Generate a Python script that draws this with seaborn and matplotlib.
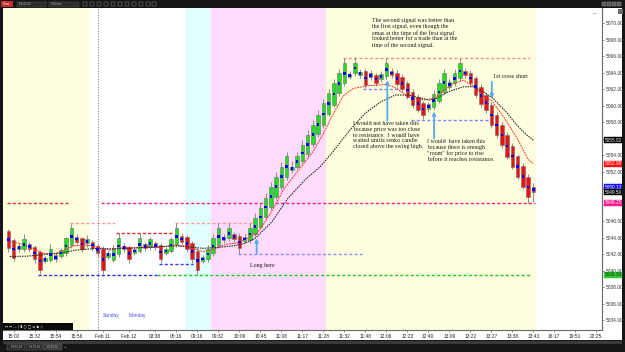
import matplotlib
matplotlib.use("Agg")
import matplotlib.pyplot as plt
import matplotlib.transforms as mtransforms
from matplotlib.patches import Rectangle
import numpy as np
import pandas as pd
import seaborn as sns

# ---------------- data ----------------
opens = [5044.80, 5043.71, 5042.58, 5042.58, 5043.22, 5042.90, 5042.29, 5041.16, 5041.28, 5041.85,
         5041.77, 5042.09, 5043.10, 5044.11, 5043.91, 5043.30, 5043.51, 5042.98, 5042.58, 5041.69,
         5041.28, 5042.01, 5042.98, 5042.82, 5042.17, 5042.41, 5043.18, 5042.82, 5043.30, 5043.10,
         5042.17, 5042.41, 5043.18, 5044.19, 5044.03, 5043.30, 5042.41, 5041.20, 5041.40, 5042.09,
         5043.10, 5043.67, 5043.91, 5044.44, 5044.19, 5043.59, 5043.71, 5044.40, 5045.33, 5046.54,
         5047.75, 5048.97, 5050.18, 5051.39, 5052.20, 5052.61, 5053.30, 5054.15, 5055.32, 5056.53,
         5057.67, 5059.00, 5060.10, 5061.51, 5062.73, 5063.45, 5063.94, 5063.70, 5064.26, 5063.94,
         5063.74, 5063.21, 5063.61, 5064.26, 5064.02, 5063.45, 5062.73, 5061.71, 5061.11, 5060.30,
         5059.57, 5059.81, 5060.62, 5061.71, 5062.32, 5062.73, 5063.33, 5064.26, 5064.02, 5063.33,
         5062.32, 5061.31, 5060.10, 5058.88, 5057.67, 5056.45, 5055.16, 5053.90, 5052.69, 5051.40,
         5050.18]
closes = [5042.70, 5041.48, 5042.98, 5043.79, 5042.58, 5041.36, 5040.07, 5041.56, 5042.58, 5041.36,
          5042.49, 5043.91, 5045.12, 5043.51, 5042.58, 5043.79, 5042.70, 5042.09, 5040.07, 5042.17,
          5042.58, 5043.91, 5042.58, 5041.36, 5042.58, 5043.91, 5042.70, 5043.79, 5042.82, 5041.36,
          5042.62, 5043.83, 5045.12, 5043.51, 5042.58, 5041.36, 5040.07, 5041.60, 5042.58, 5043.91,
          5045.12, 5044.11, 5045.12, 5043.83, 5042.70, 5044.11, 5045.12, 5046.34, 5047.63, 5048.85,
          5050.18, 5051.39, 5052.61, 5053.90, 5052.60, 5053.90, 5055.24, 5056.45, 5057.67, 5058.88,
          5060.30, 5061.51, 5062.73, 5063.94, 5065.15, 5063.86, 5065.23, 5064.14, 5062.52, 5063.45,
          5062.73, 5063.86, 5065.15, 5063.70, 5062.64, 5062.00, 5061.11, 5060.10, 5059.49, 5058.88,
          5060.22, 5061.43, 5062.73, 5063.94, 5062.85, 5063.94, 5065.15, 5063.74, 5062.73, 5061.31,
          5060.22, 5059.49, 5057.67, 5056.45, 5055.24, 5053.82, 5052.61, 5051.40, 5050.18, 5048.89,
          5049.50]
highs = [5045.10, 5043.90, 5043.30, 5044.45, 5043.50, 5043.10, 5042.50, 5041.80, 5043.20, 5042.10,
         5042.80, 5044.10, 5045.70, 5044.40, 5044.10, 5044.30, 5043.70, 5043.20, 5043.00, 5042.50,
         5043.10, 5044.50, 5043.30, 5043.10, 5042.90, 5044.50, 5043.50, 5044.10, 5043.60, 5043.30,
         5042.90, 5044.10, 5045.75, 5044.60, 5044.30, 5043.60, 5042.70, 5041.90, 5043.10, 5044.40,
         5045.73, 5044.40, 5045.73, 5044.70, 5044.50, 5044.40, 5045.73, 5046.95, 5048.16, 5049.37,
         5050.79, 5052.00, 5053.20, 5054.40, 5053.30, 5054.40, 5055.85, 5057.06, 5058.27, 5059.50,
         5060.78, 5062.00, 5063.21, 5064.42, 5065.85, 5064.20, 5065.88, 5064.50, 5064.60, 5064.30,
         5064.00, 5064.20, 5065.85, 5064.60, 5064.30, 5063.80, 5063.00, 5062.00, 5061.40, 5060.60,
         5060.50, 5061.90, 5063.21, 5064.42, 5063.20, 5064.42, 5065.85, 5064.60, 5064.30, 5063.60,
         5062.60, 5061.60, 5060.40, 5059.20, 5058.00, 5056.80, 5055.50, 5054.20, 5053.00, 5051.70,
         5050.60]
lows = [5042.30, 5041.20, 5042.20, 5042.30, 5042.30, 5040.90, 5039.60, 5040.90, 5041.00, 5041.10,
        5041.50, 5041.80, 5042.80, 5043.20, 5042.30, 5042.90, 5042.40, 5041.70, 5039.55, 5041.40,
        5041.00, 5041.70, 5042.30, 5040.90, 5041.90, 5042.10, 5042.40, 5042.50, 5042.50, 5040.95,
        5041.90, 5042.10, 5042.90, 5043.20, 5042.30, 5040.90, 5039.50, 5040.90, 5041.10, 5041.80,
        5042.80, 5043.40, 5043.60, 5043.50, 5042.00, 5043.30, 5043.40, 5044.10, 5045.00, 5046.20,
        5047.40, 5048.60, 5049.80, 5051.00, 5051.90, 5052.30, 5053.00, 5053.80, 5055.00, 5056.20,
        5057.30, 5058.70, 5059.80, 5061.20, 5062.40, 5063.20, 5063.60, 5063.40, 5062.20, 5063.10,
        5062.40, 5062.90, 5063.30, 5063.40, 5062.30, 5061.70, 5060.80, 5059.69, 5059.20, 5058.35,
        5059.30, 5059.50, 5060.30, 5061.40, 5062.00, 5062.40, 5063.00, 5063.40, 5062.40, 5061.00,
        5059.90, 5059.10, 5057.30, 5056.10, 5054.90, 5053.50, 5052.30, 5051.10, 5049.90, 5048.25,
        5048.30]

red_ema_x = [0.3, 2.2, 4.8, 6.7, 8.6, 10.5, 12.4, 14.3, 16.2, 17.5, 19.4, 21.3, 23.8, 26.4, 28.9,
             31.4, 33.3, 35.2, 37.1, 39.0, 41.6, 44.1, 47.5, 50.0, 52.6, 55.3, 58.0, 60.0, 61.9,
             63.8, 65.7, 68.3, 70.2, 72.1, 74.0, 75.9, 77.8, 79.7, 81.6, 82.8, 84.8, 86.7, 88.6,
             90.5, 92.1, 94.3, 96.8, 99.0, 100.0]
red_ema_y = [5043.5, 5043.3, 5042.65, 5042.1, 5042.0, 5042.45, 5043.0, 5043.1, 5043.0, 5042.75,
             5042.5, 5042.75, 5042.75, 5042.85, 5042.8, 5043.1, 5043.0, 5042.7, 5042.3, 5042.6,
             5043.2, 5043.4, 5044.6, 5047.0, 5050.0, 5052.2, 5054.4, 5056.6, 5059.0, 5061.2,
             5062.1, 5062.4, 5062.5, 5062.6, 5062.1, 5061.2, 5060.8, 5060.7, 5061.1, 5061.8,
             5062.7, 5063.1, 5062.4, 5061.2, 5060.6, 5058.7, 5056.2, 5053.5, 5052.98]

blk_ema_x = [0.3, 3.5, 6.7, 9.8, 13.0, 16.2, 19.4, 22.6, 25.7, 28.9, 32.1, 34.6, 37.1, 39.7, 42.9,
             45.0, 47.0, 50.2, 53.3, 56.5, 59.4, 61.8, 65.0, 68.0, 71.0, 73.7, 76.2, 78.7, 80.3,
             81.6, 83.8, 86.7, 88.6, 90.5, 92.3, 94.9, 96.8, 98.5, 100.0]
blk_ema_y = [5041.7, 5041.75, 5041.93, 5042.1, 5042.5, 5042.65, 5042.65, 5042.7, 5042.8, 5042.9,
             5043.0, 5042.85, 5042.7, 5042.8, 5043.0, 5043.3, 5043.9, 5045.9, 5048.8, 5051.0,
             5052.6, 5054.4, 5057.0, 5059.1, 5060.5, 5061.3, 5061.3, 5060.9, 5060.7, 5060.9,
             5061.7, 5062.3, 5062.3, 5061.7, 5060.9, 5059.2, 5057.7, 5056.6, 5055.82]

x_tick_pos = [1, 5, 9, 13, 18, 23, 28, 32, 36, 40, 44, 48, 52, 56, 60, 64, 68, 72, 76, 80, 84,
              88, 92, 96, 100, 104, 108, 112]
x_tick_labels = ["15:02", "15:32", "15:54", "15:56", "Feb 11", "Feb 12", "03:38", "06:16",
                 "09:16", "09:32", "10:06", "10:45", "11:08", "11:17", "11:28", "11:32", "11:48",
                 "12:06", "12:23", "12:40", "13:09", "13:22", "13:27", "13:38", "13:43", "16:17",
                 "19:51", "22:25"]
price_ticks = [5034, 5036, 5038, 5040, 5042, 5044, 5046, 5048, 5050, 5052, 5054, 5056, 5058,
               5060, 5062, 5064, 5066, 5068, 5070]
# tick labels hidden behind the price tags in the reference
hidden_price_labels = [5048, 5050, 5056]

level_prices = [5048.25, 5045.75, 5044.50, 5045.75, 5039.50, 5039.50, 5040.75, 5042.00,
                5065.85, 5062.00, 5058.30, 5048.25]
level_starts = [-0.3, 11.75, 20.6, 31.75, 5.66, 28.3, 28.7, 43.75, 63.8, 67.6, 76.8, 17.66]
level_ends = [11.4, 20.3, 31.4, 46.4, 28.3, 99.4, 35.2, 67.3, 99.4, 74.6, 92.1, 100.3]
level_colors = ["#e8322e", "#ff9a96", "#d92525", "#ff9a96", "#1f2ee0", "#22c822", "#3a3aff",
                "#8c8cff", "#ff8a84", "#8080ff", "#8080ff", "#ff1a8c"]

session_starts = [-1.01, 15.4, 33.6, 38.6, 60.6]
session_ends = [15.4, 33.6, 38.6, 60.6, 100.6]
session_colors = ["#ffffdf", "#ffffff", "#e2ffff", "#ffdcfd", "#ffffdf"]

arrow_x = [47.3, 72.2, 81.1, 92.1]
arrow_from = [5042.1, 5058.2, 5056.05, 5062.9]
arrow_to = [5043.9, 5063.1, 5059.3, 5060.9]

tag_values = [5055.82, 5052.98, 5050.13, 5049.50, 5048.25, 5039.50]
tag_colors = ["#000000", "#ff1010", "#1010ff", "#000000", "#ff1a8c", "#33c633"]
tag_text_colors = ["white", "white", "white", "white", "white", "#0b3d0b"]

note_top = ("The second signal was better than\nthe first signal, even though the\n"
            "emas at the time of the first signal\nlooked better for a trade than at the\n"
            "time of the second signal.")
note_left = ("I would not have taken this\nbecause price was too close\n"
             "to resistance.  I woudl have\nwaited untila renko candle\n"
             "closed above the swing high.")
note_right = ("I would  have taken this\nbecause there is enough\n"
              "\"room\" for price to rise\nbefore it reaches resistance.")

# ---------------- figure ----------------
sns.set_style("white")
W, H = 625, 352
fig = plt.figure(figsize=(6.25, 3.52), dpi=100, facecolor="#161616")


def frect(x0, y0, x1, y1, fc, ec="none", lw=0, z=-5):
    r = Rectangle((x0 / W, 1 - y1 / H), (x1 - x0) / W, (y1 - y0) / H,
                  transform=fig.transFigure, facecolor=fc, edgecolor=ec, linewidth=lw, zorder=z)
    fig.add_artist(r)
    return r


def ftext(x, y, s, **kw):
    fig.text(x / W, 1 - y / H, s, **kw)


# chart window (white) behind everything
frect(3, 8, 622, 340, "white", z=-5)

ax = fig.add_axes([3 / W, 1 - 330 / H, (601.7 - 3) / W, (330 - 8) / H])
ax.set_facecolor("white")
ax.set_xlim(-1.01, 113.03)
ax.set_ylim(5032.79, 5071.86)

# sessions
for s0, s1, c in zip(session_starts, session_ends, session_colors):
    ax.axvspan(s0, s1, color=c, lw=0, zorder=0)
ax.axvline(17.0, color="#9a9a9a", lw=0.8, ls=(0, (1.2, 1.2)), zorder=1)

# horizontal levels
for y, a, b, c in zip(level_prices, level_starts, level_ends, level_colors):
    ax.hlines(y, a, b, colors=c, lw=1.0, linestyles=(0, (2.2, 1.6)), zorder=2)

# candles
df = pd.DataFrame({"o": opens, "c": closes, "h": highs, "l": lows})
df["i"] = np.arange(len(df))
df["lo"] = df[["o", "c"]].min(axis=1)
df["hi"] = df[["o", "c"]].max(axis=1)
df["mid"] = (df["o"] + df["c"]) / 2
df["col"] = np.where(df["c"] >= df["o"], "#1ee01e", "#ee1111")

ax.vlines(df["i"], df["l"], df["h"], colors="#8c8c8c", lw=0.7, zorder=3)
ax.bar(df["i"], df["hi"] - df["lo"], bottom=df["lo"], width=0.66, color=df["col"],
       edgecolor="#6e6e6e", linewidth=0.4, zorder=4)

# emas
sns.lineplot(x=red_ema_x, y=red_ema_y, ax=ax, color="#ff3030", lw=0.7,
             linestyle=(0, (2, 0.8)), zorder=5, sort=False)
sns.lineplot(x=blk_ema_x, y=blk_ema_y, ax=ax, color="#222222", lw=0.8,
             linestyle=(0, (1.3, 0.9)), zorder=5, sort=False)

# blue dots
sns.scatterplot(x=df["i"], y=df["mid"], ax=ax, marker="s", s=3.2, color="#0000ff",
                edgecolor="none", linewidth=0, zorder=6)

# arrows
for x, y0, y1 in zip(arrow_x, arrow_from, arrow_to):
    ax.annotate("", xy=(x, y1), xytext=(x, y0),
                arrowprops=dict(arrowstyle="-|>", color="#58a8ee", lw=1.3,
                                mutation_scale=4.5, shrinkA=0, shrinkB=0), zorder=7)

# notes
serif = ["Liberation Serif", "DejaVu Serif"]
tk = dict(family=serif, fontsize=4.3, color="#1a1a1a", zorder=8, linespacing=1.2)
ax.text(69.2, 5070.7, note_top, ha="left", va="top", **tk)
ax.text(65.7, 5058.15, note_left, ha="left", va="top", **tk)
ax.text(79.8, 5055.95, note_right, ha="left", va="top", **tk)
ax.text(92.4, 5063.6, "1st cross short", ha="left", va="center", **tk)
ax.text(46.0, 5040.67, "Long here", ha="left", va="center", **tk)
sans = ["Liberation Sans", "DejaVu Sans"]
ax.text(18.04, 5034.5, "Sunday", ha="left", va="center", family=sans, fontsize=3.5, color="#4a4aff")
ax.text(23.0, 5034.5, "Monday", ha="left", va="center", family=sans, fontsize=3.5, color="#4a4aff")

# axes styling
for side in ["top", "left"]:
    ax.spines[side].set_visible(False)
for side in ["bottom", "right"]:
    ax.spines[side].set_color("#6a6a6a")
    ax.spines[side].set_linewidth(0.8)
ax.yaxis.tick_right()
ax.set_yticks(price_ticks)
ax.set_yticklabels(["" if v in hidden_price_labels else f"{v:.2f}" for v in price_ticks])
ax.set_xticks(x_tick_pos)
ax.set_xticklabels(x_tick_labels)
ax.tick_params(axis="y", which="both", right=True, left=False, labelright=True, labelleft=False,
               length=1.5, pad=1.2, labelsize=3.5, labelcolor="#333333", color="#6a6a6a", width=0.5)
ax.tick_params(axis="x", which="both", bottom=True, length=1.5, pad=1.6, labelsize=3.5,
               labelcolor="#222222", color="#6a6a6a", width=0.5)
for lab in ax.get_xticklabels() + ax.get_yticklabels():
    lab.set_family(sans)
ax.set_xlabel("")
ax.set_ylabel("")
ax.grid(False)

# price tags
blend = mtransforms.blended_transform_factory(ax.transAxes, ax.transData)
for v, c, tc in zip(tag_values, tag_colors, tag_text_colors):
    ax.text(1.0045, v, f"{v:.2f}", transform=blend, ha="left", va="center", fontsize=3.4,
            family=sans, color=tc, clip_on=False, zorder=9,
            bbox=dict(boxstyle="square,pad=0.12", facecolor=c, edgecolor=c, lw=0.3))

# ---------------- window chrome ----------------
# top toolbar
frect(1, 1, 12.5, 7, "#c42a2a", z=-4)
ftext(6.7, 4.1, "Chart", ha="center", va="center", fontsize=2.2, color="white", family=sans)
frect(17, 1.5, 46, 6.5, "#2b2b2b", ec="#5a5a5a", lw=0.3, z=-4)
ftext(19, 4.1, "ES 03-24", ha="left", va="center", fontsize=2.0, color="#bbbbbb", family=sans)
frect(49, 1.5, 79, 6.5, "#2b2b2b", ec="#5a5a5a", lw=0.3, z=-4)
ftext(51, 4.1, "5 Renko", ha="left", va="center", fontsize=2.0, color="#bbbbbb", family=sans)
for xi in [83, 90, 97, 104, 111, 118, 125, 132, 139, 146, 152]:
    frect(xi, 2, xi + 3.5, 6, "none", ec="#9a9a9a", lw=0.3, z=-4)
for xi in [602, 607, 612, 617]:
    frect(xi, 1.8, xi + 3.5, 5.8, "#5a5a5a", ec="#9a9a9a", lw=0.3, z=-4)
frect(618, 9, 623, 14, "#6a6a6a", z=10)
ftext(595, 13, "\u2190", ha="center", va="center", fontsize=4, color="#8a8a8a", family=sans)

# bottom-left overlay toolbar
frect(3, 323, 73, 329.5, "#0b0b0b", z=10)
ftext(5, 326.3, "\u2194 \u2194 \u2014 | \u25ae \u25cb \u25a1 \u21d4 \u25c6 \u25c7", ha="left",
      va="center", fontsize=2.6, color="#dddddd", family=["DejaVu Sans"], zorder=11)

# bottom strip with tabs
frect(3, 340.5, 622, 343.5, "#3a3a3a", z=-4)
for x0, x1, c in [(7, 25, "#2a2a2a"), (26, 42, "#2a2a2a"), (43, 62, "#3c3c3c")]:
    frect(x0, 344, x1, 349.5, c, ec="#6a6a6a", lw=0.3, z=-4)
    ftext((x0 + x1) / 2, 346.8, "03 03-24", ha="center", va="center", fontsize=1.9,
          color="#bdbdbd", family=sans)
ftext(64.5, 346.8, "+", ha="center", va="center", fontsize=3, color="#cccccc", family=sans)

fig.savefig("out.png", dpi=100, facecolor=fig.get_facecolor())
